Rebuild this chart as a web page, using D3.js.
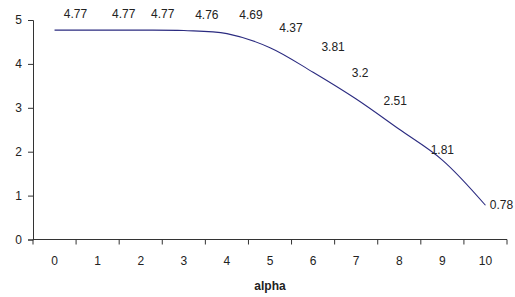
<!DOCTYPE html>
<html>
<head>
<meta charset="utf-8">
<script src="https://cdn.jsdelivr.net/npm/d3@7"></script>
<style>
  body { margin: 0; background: #fff; }
  text { font-family: "Liberation Sans", Arial, sans-serif; fill: #222; }
</style>
</head>
<body>
<div id="wrapper"></div>
<script>
// Data
const categories = ["0", "1", "2", "3", "4", "5", "6", "7", "8", "9", "10"];
const values = [4.77, 4.77, 4.77, 4.76, 4.69, 4.37, 3.81, 3.2, 2.51, 1.81, 0.78];
const yTicks = [0, 1, 2, 3, 4, 5];
const xTitle = "alpha";

// label placement relative to each point (layout only)
const labelOffsets = [
  [21, -16], [26, -16], [22, -16], [23, -16], [24, -19], [21, -20],
  [20, -25], [4, -26], [-4, -29], [0, -10], [16, 0]
];

function drawChart() {
  const dimensions = {
    width: 515,
    height: 297,
    margin: { top: 20, right: 8, bottom: 57.5, left: 33 },
  };
  dimensions.boundedWidth = dimensions.width
    - dimensions.margin.left
    - dimensions.margin.right;
  dimensions.boundedHeight = dimensions.height
    - dimensions.margin.top
    - dimensions.margin.bottom;

  const wrapper = d3.select("#wrapper")
    .append("svg")
      .attr("width", dimensions.width)
      .attr("height", dimensions.height);

  const bounds = wrapper.append("g")
    .attr("transform", `translate(${dimensions.margin.left},${dimensions.margin.top})`);

  // Scales
  const xScale = d3.scaleBand()
    .domain(categories)
    .range([0, dimensions.boundedWidth])
    .padding(0);

  const yScale = d3.scaleLinear()
    .domain([0, 5])
    .range([dimensions.boundedHeight, 0]);

  const xCenter = (d, i) => xScale(categories[i]) + xScale.bandwidth() / 2;

  // Y axis
  const yAxis = d3.axisLeft(yScale)
    .tickValues(yTicks)
    .tickSize(5)
    .tickPadding(6)
    .tickFormat(d3.format("d"));
  const yAxisG = bounds.append("g")
    .call(yAxis);
  yAxisG.select(".domain").attr("stroke", "#333");
  yAxisG.selectAll(".tick line").attr("stroke", "#333");
  yAxisG.selectAll("text")
    .style("font-size", "12px");

  // X axis: ticks between categories
  const xAxisG = bounds.append("g")
    .attr("transform", `translate(0,${dimensions.boundedHeight})`);
  xAxisG.append("line")
    .attr("x1", 0)
    .attr("x2", dimensions.boundedWidth)
    .attr("stroke", "#333");
  const edges = categories.map(c => xScale(c)).concat([dimensions.boundedWidth]);
  xAxisG.selectAll(".xtick")
    .data(edges)
    .join("line")
      .attr("class", "xtick")
      .attr("x1", d => d)
      .attr("x2", d => d)
      .attr("y1", 0)
      .attr("y2", 5)
      .attr("stroke", "#333");
  xAxisG.selectAll(".xlabel")
    .data(categories)
    .join("text")
      .attr("class", "xlabel")
      .attr("x", d => xScale(d) + xScale.bandwidth() / 2)
      .attr("y", 25)
      .attr("text-anchor", "middle")
      .style("font-size", "12px")
      .text(d => d);

  bounds.append("text")
    .attr("x", dimensions.boundedWidth / 2)
    .attr("y", dimensions.boundedHeight + 50)
    .attr("text-anchor", "middle")
    .style("font-size", "12px")
    .style("font-weight", "bold")
    .text(xTitle);

  // Line
  const lineGenerator = d3.line()
    .x(xCenter)
    .y(d => yScale(d))
    .curve(d3.curveCatmullRom);

  bounds.append("path")
    .datum(values)
    .attr("d", lineGenerator)
    .attr("fill", "none")
    .attr("stroke", "#2b2b80")
    .attr("stroke-width", 1.1);

  // Data labels
  bounds.selectAll(".label")
    .data(values)
    .join("text")
      .attr("class", "label")
      .attr("x", (d, i) => xCenter(d, i) + labelOffsets[i][0])
      .attr("y", (d, i) => yScale(d) + labelOffsets[i][1])
      .attr("dy", "0.35em")
      .attr("text-anchor", "middle")
      .style("font-size", "12px")
      .text(d => d);
}
drawChart();
</script>
</body>
</html>
